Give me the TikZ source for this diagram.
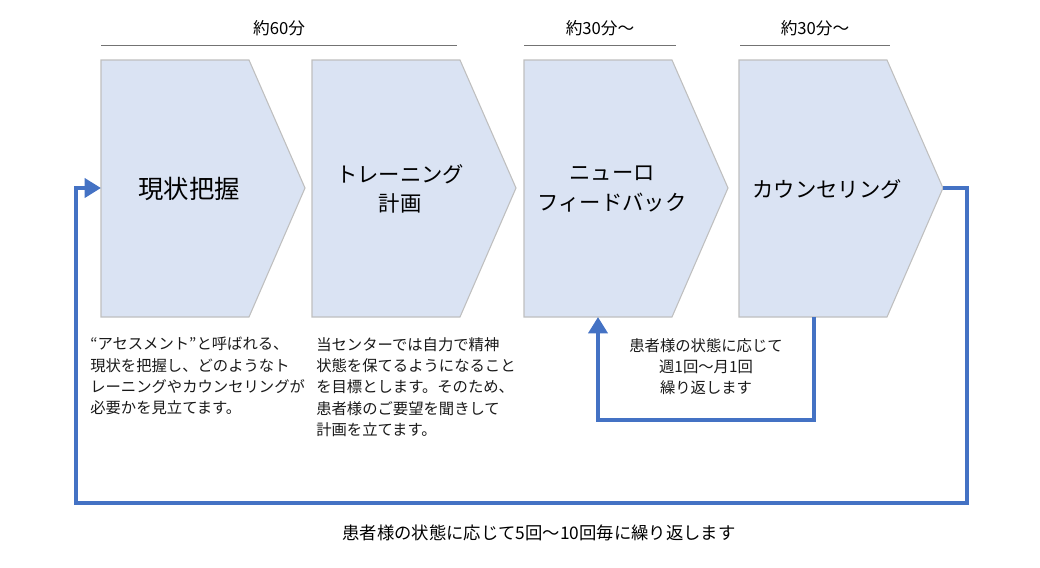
\documentclass[tikz,border=0pt]{standalone}
\usepackage{fontspec}
\setmainfont{Noto Sans CJK JP}
\usetikzlibrary{arrows.meta}
\definecolor{stepfill}{HTML}{DAE3F3}
\definecolor{loopblue}{HTML}{4472C4}
\begin{document}
\begin{tikzpicture}[x=0.75pt,y=-0.75pt,>=Triangle]
	\tikzset{
		stage/.style={fill=stepfill,draw=black!25,line width=0.8pt},
		title/.style={font=\fontsize{16pt}{22pt}\selectfont,align=center,text=black},
		note/.style={font=\fontsize{11.5pt}{16pt}\selectfont,align=left,text=black!90,anchor=north west,inner sep=0pt},
		span/.style={draw=black!55,line width=0.7pt},
		loop/.style={draw=loopblue,line width=3.2pt,line join=miter}
	}
	\useasboundingbox (0,0) rectangle (1040,568);
	\foreach \i/\x/\name in {1/101/{\fontsize{19pt}{22pt}\selectfont 現状把握},2/312/{トレーニング\\計画},3/524/{ニューロ\\フィードバック},4/739/カウンセリング}{
		\draw[stage] (\x,60) -- (\x+148,60) -- (\x+204,188) -- (\x+148,317) -- (\x,317) -- cycle;
		\coordinate (in\i) at (\x,188);
		\coordinate (tip\i) at (\x+204,188);
		\node[title] (t\i) at (\x+88,189) {\name};
	}
	% durations
	\foreach \i/\a/\b/\lbl in {a/101/457/約60分,b/524/676/約30分～,c/740/890/約30分～}{
		\draw[span] (\a,45) coordinate (l\i) -- (\b,45) coordinate (r\i);
		\node[font=\fontsize{12.5pt}{14pt}\selectfont] (d\i) at ({(\a+\b)/2},28) {\lbl};
	}
	% notes
	\node[note] (n1) at (90,337) {“アセスメント”と呼ばれる、\\現状を把握し、どのようなト\\レーニングやカウンセリングが\\必要かを見立てます。};
	\node[note] (n2) at (316,337) {当センターでは自力で精神\\状態を保てるようになること\\を目標とします。そのため、\\患者様のご要望を聞きして\\計画を立てます。};
	\node[note,anchor=north,align=center] (n3) at (706,338) {患者様の状態に応じて\\週1回～月1回\\繰り返します};
	\node[font=\fontsize{13pt}{14pt}\selectfont] (n4) at (539,533) {患者様の状態に応じて5回～10回毎に繰り返します};
	% loops
	\coordinate (o4) at (814,317);
	\draw[loop,->] (o4) -- (814,420) -- (598,420) -- (598,317);
	\draw[loop,->] (tip4) -- (967,188) -- (967,503) -- (76,503) -- (76,188) -- (in1);
\end{tikzpicture}
\end{document}
